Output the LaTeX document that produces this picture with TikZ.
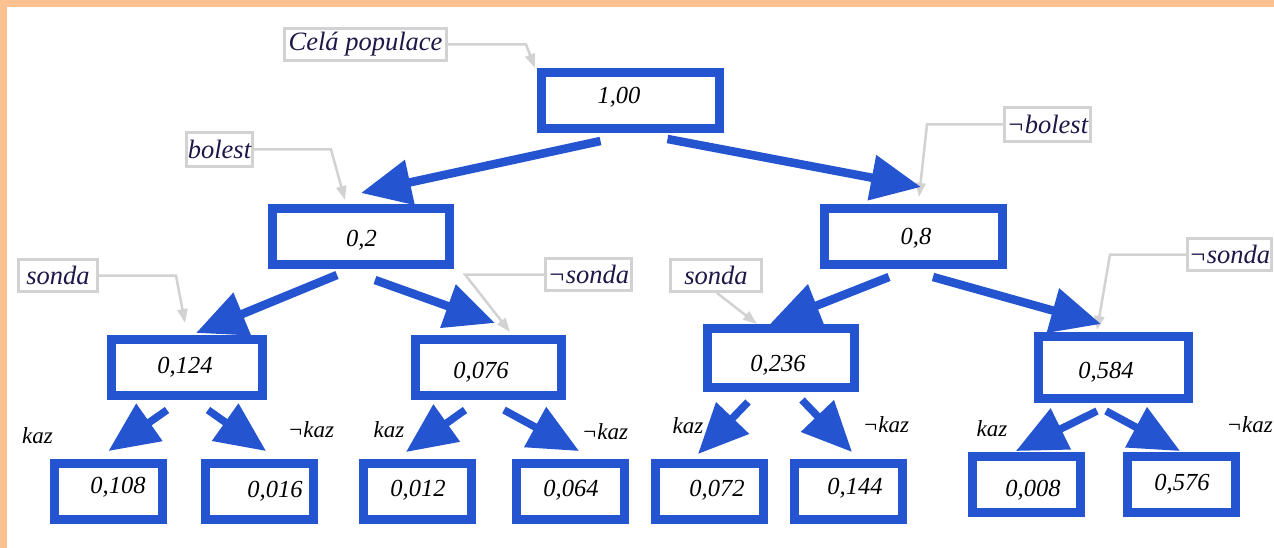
\documentclass[tikz,border=0pt]{standalone}
\usepackage{fontspec}
\setmainfont{Liberation Serif}
\usetikzlibrary{arrows.meta}
\definecolor{tblue}{HTML}{2454D0}
\definecolor{peach}{HTML}{FBC190}
\definecolor{cgray}{HTML}{D2D2D2}
\definecolor{navy}{HTML}{1E1848}
\begin{document}
\begin{tikzpicture}[x=1pt,y=-1pt,
  box/.style={draw=tblue,line width=9pt,rectangle,inner sep=0pt,minimum height=56pt},
  num/.style={anchor=base,inner sep=0pt,font=\fontsize{24.5}{28}\selectfont\itshape},
  lab/.style={draw=cgray,line width=3pt,rectangle,inner sep=0pt,minimum height=32pt,text=navy,font=\fontsize{26.5}{30}\selectfont\itshape},
  kz/.style={anchor=base,inner sep=0pt,font=\fontsize{23}{26}\selectfont\itshape},
  barrow/.style={draw=tblue,line width=8.5pt,-{Triangle[length=50pt,width=44pt]}},
  sarrow/.style={draw=tblue,line width=7.5pt,-{Triangle[length=50pt,width=44pt]}},
  callout/.style={draw=cgray,line width=2.5pt,-{Triangle[length=14pt,width=10pt]}}]
\useasboundingbox (0,0) rectangle (1274,548);
\fill[peach] (0,0) rectangle (1274,548);
\fill[white] (7,7) rectangle (1274,548);
% boxes
\node[box,minimum width=178pt] (root) at (630.5,100.5) {};
\node[box,minimum width=177pt] (n02) at (361,236.5) {};
\node[box,minimum width=178pt] (n08) at (913.5,236.5) {};
\node[box,minimum width=151pt] (n0124) at (187,367.5) {};
\node[box,minimum width=146pt] (n0076) at (488.5,367.5) {};
\node[box,minimum width=147pt,minimum height=59pt] (n0236) at (781,358) {};
\node[box,minimum width=150pt,minimum height=62pt] (n0584) at (1113.5,367.5) {};
\node[box,minimum width=108pt] (l1) at (108.5,491.5) {};
\node[box,minimum width=108pt] (l2) at (259.5,491.5) {};
\node[box,minimum width=108pt] (l3) at (417.5,491.5) {};
\node[box,minimum width=108pt] (l4) at (570,491.5) {};
\node[box,minimum width=108pt] (l5) at (709.5,491.5) {};
\node[box,minimum width=108pt] (l6) at (848,491.5) {};
\node[box,minimum width=108pt] (l7) at (1026,484.5) {};
\node[box,minimum width=108pt] (l8) at (1181.5,484.5) {};
% numbers
\node[num] (t0) at (619,104) {1,00};
\node[num] (t1) at (361.5,247) {0,2};
\node[num] (t2) at (916,244) {0,8};
\node[num] (t3) at (185,373) {0,124};
\node[num] (t4) at (481,378) {0,076};
\node[num] (t5) at (778,371) {0,236};
\node[num] (t6) at (1106,378) {0,584};
\node[num] (t7) at (118,493) {0,108};
\node[num] (t8) at (275,497) {0,016};
\node[num] (t9) at (418,496) {0,012};
\node[num] (t10) at (571,496) {0,064};
\node[num] (t11) at (717,496) {0,072};
\node[num] (t12) at (855,494) {0,144};
\node[num] (t13) at (1033,496) {0,008};
\node[num] (t14) at (1182,490) {0,576};
% callout labels
\node[lab,minimum width=162pt] (cela) at (365.5,44.5) {Celá populace};
\node[lab,minimum width=66pt,minimum height=34pt] (bol) at (219.5,149.5) {bolest};
\node[lab,minimum width=86pt,minimum height=34pt] (nbol) at (1047.5,124.5) {¬bolest};
\node[lab,minimum width=79pt] (sonL) at (58,275.5) {sonda};
\node[lab,minimum width=86pt] (nsonL) at (588.5,274.5) {¬sonda};
\node[lab,minimum width=91pt] (sonR) at (716,275.5) {sonda};
\node[lab,minimum width=84pt] (nsonR) at (1229.5,254.5) {¬sonda};
% kaz labels
\node[kz] (k1) at (37.5,443) {kaz};
\node[kz] (nk1) at (311,437) {¬kaz};
\node[kz] (k2) at (389,437) {kaz};
\node[kz] (nk2) at (605,439) {¬kaz};
\node[kz] (k3) at (688,433) {kaz};
\node[kz] (nk3) at (886,432) {¬kaz};
\node[kz] (k4) at (992,436) {kaz};
\node[kz,anchor=base east] (nk4) at (1273,432) {¬kaz};
% callout connectors
\draw[callout] (cela.east) -- ++(78,0) -- ([shift={(-2,0)}]root.north west);
\draw[callout] (bol.east) -- ++(77,0) -- ([shift={(-16,-4)}]n02.north);
\draw[callout] (nbol.west) -- ++(-76,0) -- ([shift={(5.5,-7)}]n08.north);
\draw[callout] (sonL.east) -- ++(77,0) -- ([shift={(-2,-12)}]n0124.north);
\draw[callout] (nsonL.west) -- ++(-79,0) -- ([shift={(21.5,-3)}]n0076.north);
\draw[callout] ([shift={(1,0)}]sonR.south) -- ([shift={(-24,0)}]n0236.north);
\draw[callout] (nsonR.west) -- ++(-76,0) -- ([shift={(-16.5,-2)}]n0584.north);
% blue arrows
\draw[barrow] ([shift={(-30,8)}]root.south) -- ([shift={(0,-11)}]n02.north);
\draw[barrow] ([shift={(37,6)}]root.south) -- ([shift={(7.5,-17)}]n08.north);
\draw[barrow] ([shift={(-24,6)}]n02.south) -- ([shift={(9,-2)}]n0124.north);
\draw[barrow] ([shift={(14,11)}]n02.south) -- ([shift={(6.5,-12)}]n0076.north);
\draw[barrow] ([shift={(-24.5,8)}]n08.south) -- ([shift={(-11,0)}]n0236.north);
\draw[barrow] ([shift={(19.5,8)}]n08.south) -- ([shift={(-12.5,-8)}]n0584.north);
\draw[sarrow] ([shift={(-20,10)}]n0124.south) -- ([shift={(0,-8)}]l1.north);
\draw[sarrow] ([shift={(21,10)}]n0124.south) -- ([shift={(6.5,-8)}]l2.north);
\draw[sarrow] ([shift={(-23.5,10)}]n0076.south) -- ([shift={(-11.5,-7)}]l3.north);
\draw[sarrow] ([shift={(15.5,10)}]n0076.south) -- ([shift={(9,-8)}]l4.north);
\draw[sarrow] ([shift={(-33,10)}]n0236.south) -- ([shift={(-11.5,-5)}]l5.north);
\draw[sarrow] ([shift={(21,8)}]n0236.south) -- ([shift={(4,-7)}]l6.north);
\draw[sarrow] ([shift={(-16.5,8)}]n0584.south) -- ([shift={(-10,-1)}]l7.north);
\draw[sarrow] ([shift={(-7.5,8)}]n0584.south) -- ([shift={(-1.5,-1)}]l8.north);
\end{tikzpicture}
\end{document}
